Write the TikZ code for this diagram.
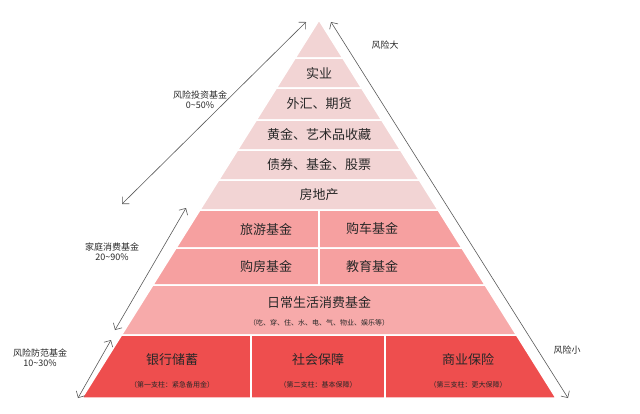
\documentclass[tikz,border=0pt]{standalone}
\usepackage{fontspec}
\setmainfont{Noto Sans CJK SC}
\usetikzlibrary{arrows.meta}
\definecolor{pale}{RGB}{242,212,212}
\definecolor{mid}{RGB}{246,160,160}
\definecolor{deep}{RGB}{238,78,78}
\definecolor{ink}{RGB}{40,40,40}
\tikzset{every picture/.style={line width=0.75pt}}
\tikzset{
  band/.style={draw=white, line width=1.5pt},
  lab/.style={font=\fontsize{13}{14}\selectfont, text=ink},
  sub/.style={font=\fontsize{7}{8}\selectfont, text=ink},
  side/.style={font=\fontsize{9}{10}\selectfont, text=ink, align=center},
  risk/.style={draw=black!65, line width=0.6pt, {Straight Barb[length=5pt]}-{Straight Barb[length=5pt]}}
}
\begin{document}
\begin{tikzpicture}[x=1pt,y=1pt,yscale=-1,xscale=1]
	\useasboundingbox (0,0) rectangle (640,413);

	%bands of the pyramid
	\foreach \ya/\yb/\col in {20/58/pale,58/88/pale,88/120/pale,120/150/pale,150/180/pale,180/210/pale,210/248/mid,248/285/mid,285/335/mid!90,335/398/deep}
	  \draw [band, fill=\col] ({319-0.627*(\ya-20)},\ya) -- ({319+0.627*(\ya-20)},\ya) -- ({319+0.627*(\yb-20)},\yb) -- ({319-0.627*(\yb-20)},\yb) -- cycle ;
	%splits
	\draw [band] (319,210) -- (319,285) ;
	\draw [band] (251,335) -- (251,398) ;
	\draw [band] (385,335) -- (385,398) ;

	% Text Nodes
	\node [lab] (shiye) at (319,73) {实业};
	\node [lab] (waihui) at (319,104) {外汇、期货};
	\node [lab] (huangjin) at (319,135) {黄金、艺术品收藏};
	\node [lab] (zhaiquan) at (319,165) {债券、基金、股票};
	\node [lab] (fangdichan) at (319,195) {房地产};
	\node [lab] (lvyou) at (266,229) {旅游基金};
	\node [lab] (gouche) at (372,229) {购车基金};
	\node [lab] (goufang) at (266,267) {购房基金};
	\node [lab] (jiaoyu) at (372,267) {教育基金};
	\node [lab] (richang) at (319,302) {日常生活消费基金};
	\node [sub] (richangsub) at (319,323) {（吃、穿、住、水、电、气、物业、娱乐等）};
	\node [lab] (yinhang) at (172,360) {银行储蓄};
	\node [sub] (yinhangsub) at (172,385) {（第一支柱：紧急备用金）};
	\node [lab] (shehui) at (318,360) {社会保障};
	\node [sub] (shehuisub) at (318,385) {（第二支柱：基本保障）};
	\node [lab] (shangye) at (468,360) {商业保险};
	\node [sub] (shangyesub) at (468,385) {（第三支柱：更大保障）};

	\node [side] (touzi) at (200,100) {风险投资基金\\0\textasciitilde 50\%};
	\node [side] (xiaofei) at (112,252) {家庭消费基金\\20\textasciitilde 90\%};
	\node [side] (fangfan) at (40,358) {风险防范基金\\10\textasciitilde 30\%};
	\node [side] (da) at (385,45) {风险大};
	\node [side] (xiao) at (567,350) {风险小};

	% Straight Lines
	\coordinate (t1) at (306,22);
	\coordinate (t2) at (122,204);
	\coordinate (m1) at (186,208);
	\coordinate (m2) at (115,330);
	\coordinate (b1) at (111,340);
	\coordinate (b2) at (78,398);
	\coordinate (r1) at (331,22);
	\coordinate (r2) at (568,398);
	\draw [risk] (t2) -- (t1) ;
	\draw [risk] (m2) -- (m1) ;
	\draw [risk] (b2) -- (b1) ;
	\draw [risk] (r2) -- (r1) ;
\end{tikzpicture}
\end{document}
